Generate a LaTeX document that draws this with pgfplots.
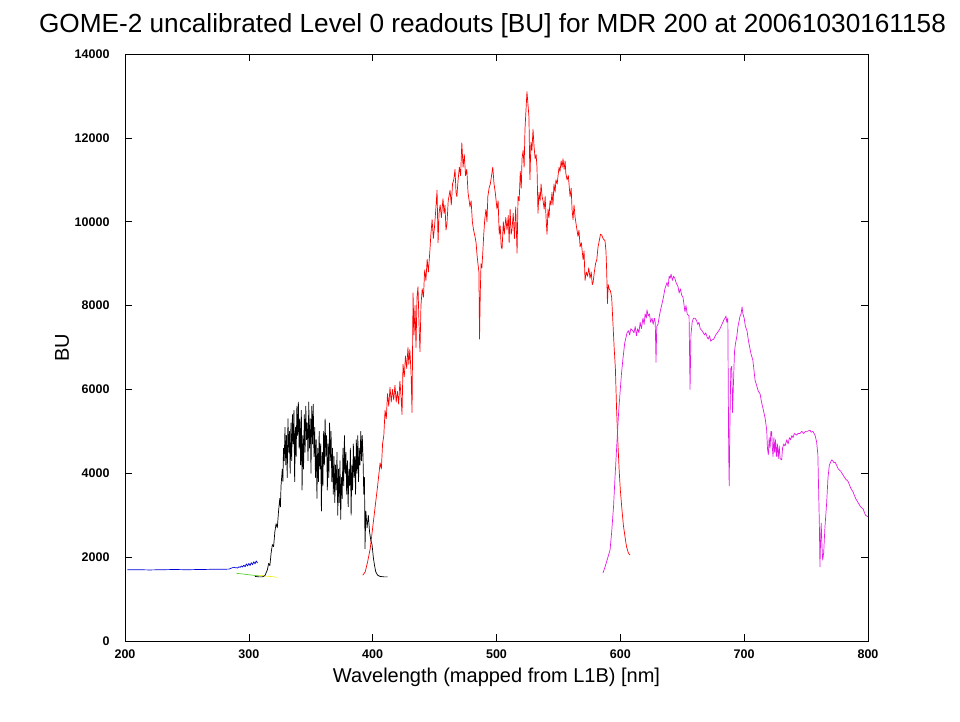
\documentclass[border=0pt]{standalone}
\usepackage{fontspec}
\setmainfont{Liberation Sans}
\usepackage{pgfplots}
\pgfplotsset{compat=1.18}
\definecolor{cblue}{rgb}{0,0,0.85}
\definecolor{cgreen}{rgb}{0.35,0.8,0.2}
\definecolor{cyellow}{rgb}{0.95,0.95,0.1}
\definecolor{cmag}{rgb}{0.9,0.1,0.9}
\begin{document}
\begin{tikzpicture}
\begin{axis}[
  scale only axis, width=743pt, height=587pt,
  xmin=200, xmax=800, ymin=0, ymax=14000,
  xtick={200,300,...,800}, ytick={0,2000,...,14000},
  scaled y ticks=false, scaled x ticks=false,
  tick align=inside, major tick length=7pt,
  every tick/.style={black, line width=0.6pt},
  axis line style={line width=0.8pt},
  /pgf/number format/assume math mode=true,
  yticklabel style={/pgf/number format/fixed, /pgf/number format/1000 sep={}, font=\fontsize{12.5}{14}\selectfont\bfseries, xshift=-12pt},
  xticklabel style={/pgf/number format/1000 sep={}, font=\fontsize{12.5}{14}\selectfont\bfseries, yshift=-5pt},
  title={GOME-2 uncalibrated Level 0 readouts [BU] for MDR 200 at 20061030161158},
  title style={font=\fontsize{26.2}{30}\selectfont, at={(0.5,1)}, anchor=center, yshift=22pt, xshift=-4pt},
  xlabel={Wavelength (mapped from L1B) [nm]},
  xlabel style={font=\fontsize{20}{24}\selectfont, at={(0.5,0)}, anchor=center, yshift=-36pt},
  ylabel={BU},
  ylabel style={font=\fontsize{20}{24}\selectfont, at={(-0.0848,0.5)}, anchor=center},
  every axis plot/.append style={line width=0.7pt, line join=round},
]
% blue channel
\addplot[cblue] coordinates {
(202,1700) (210,1700) (220,1695) (230,1700) (240,1705) (250,1700) (260,1705) (270,1710) (280,1712) (284,1715)
(286,1740) (288,1760) (289,1745) (290,1750) (291,1740) (292,1770) (293,1755) (294,1790) (295,1765) (296,1810)
(297,1770) (298,1840) (299,1790) (300,1850) (301,1800) (302,1870) (303,1820) (304,1890) (305,1840) (306,1910) (307,1860)
};
% green
\addplot[cgreen] coordinates {
(290,1615) (293,1605) (296,1595) (300,1580) (303,1570) (306,1560) (309,1555) (312,1550)
};
% yellow
\addplot[cyellow] coordinates {
(308,1565) (311,1555) (315,1545) (319,1535) (323,1520)
};
% black
\addplot[black] coordinates {
(305,1540) (308,1530) (311,1530) (313,1560) (315,1700) (316,1850) (317,1800) (318,2100) (319,2300) (320,2250)
(321,2600) (322,2800) (323,2700) (324,3100) (325,3400) (325.5,3200) (326,3700) (327,4100) (327.5,3800)
(328.0,4600) (328.6,4300) (329.2,5100) (329.8,4200) (330.4,4900) (331.0,3900) (331.6,5300) (332.2,4500)
(332.8,5000) (333.4,4000) (334.0,5200) (334.6,4300) (335.2,5400) (335.8,4700) (336.4,5500) (337.0,3800)
(337.6,5100) (338.2,4400) (338.8,5600) (339.4,4900) (340.0,5700) (340.6,4600) (341.2,5300) (341.8,4200)
(342.4,5500) (343.0,3600) (343.6,4900) (344.2,4100) (344.8,5400) (345.4,4500) (346.0,5600) (346.6,4800)
(347.2,5200) (347.8,4300) (348.4,5700) (349.0,4600) (349.6,5300) (350.2,4000) (350.8,5600) (351.4,4700)
(352.0,5650) (352.6,4400) (353.2,5100) (353.8,3900) (354.4,4800) (355.0,3400) (355.6,4600) (356.2,3800)
(356.8,5000) (357.4,4100) (358.0,4700) (358.6,3100) (359.2,4500) (359.8,3700) (360.4,5000) (361.0,4200)
(361.6,5300) (362.2,4400) (362.8,4900) (363.4,3600) (364.0,4700) (364.6,3900) (365.2,5200) (365.8,4300)
(366.4,5000) (367.0,3800) (367.6,4600) (368.2,3500) (368.8,4400) (369.4,3300) (370.0,4200) (370.6,3600)
(371.2,4500) (371.8,3000) (372.4,4100) (373.0,3300) (373.6,4300) (374.2,2900) (374.8,3900) (375.4,3400)
(376.0,4600) (376.6,3700) (377.2,4900) (377.8,4000) (378.4,4500) (379.0,3500) (379.6,4300) (380.2,3200)
(380.8,4100) (381.4,3700) (382.0,4600) (382.6,3000) (383.2,4200) (383.8,3600) (384.4,4700) (385.0,3900)
(385.6,4400) (386.2,3500) (386.8,4800) (387.4,4000) (388.0,4900) (388.6,3800) (389.2,4600) (389.8,4200)
(390.4,5000) (391.0,4300) (391.6,4900) (392.2,4400) (392.8,3500) (393.4,3900) (393.8,2200) (394.5,3100)
(395.5,2700) (396.5,3000) (397.5,2600) (398.5,2400) (399.5,2300) (400.5,2000) (401.5,1800) (402.5,1650)
(404,1570) (406,1540) (409,1530) (412,1530)
};
% red
\addplot[red] coordinates {
(392,1570) (394,1650) (396,1900) (398,2200) (400,2700) (402,3200) (404,3700) (406,4250) (407,4100) (408,4700)
(409,4900) (410,5500) (411,5300) (412,5900) (413,5600) (414,6050) (415,5700) (416,6000) (417,5750) (418,6100)
(419,5700) (420,5950) (421,5650) (422,6200) (423,5800) (423.7,5400) (424.5,6600) (425.5,6300) (426.5,6800)
(427.5,6500) (428.5,7000) (429.2,6600) (430,6950) (431,6400) (431.8,5450) (432.6,8300) (433.4,7300)
(434.2,8000) (435,7000) (435.8,8200) (436.6,8450) (437.4,7600) (438.2,6900) (439,8000) (440,8400) (441,8200)
(442,8850) (443,8600) (444,9100) (445,8800) (446.3,9350) (447,9700) (448,10050) (449,9600) (450,9900)
(451,10300) (452,10750) (452.8,9500) (453.6,10200) (454.5,10400) (455.5,10100) (456.8,10550) (457.6,10200)
(458.4,10400) (459.2,9800) (460,9950) (461,10500) (462.5,10750) (463.5,10400) (464.5,10900) (465.5,11000)
(466.5,11250) (467.3,10700) (468,10600) (469,11000) (470,11300) (471,11100) (472,11880) (473,11300)
(474,11600) (475,11100) (476,11250) (477,10700) (478.6,10350) (479.5,10500) (480.5,10000) (481.5,9800)
(482.6,9650) (483.5,9500) (484.3,9200) (485,9000) (485.8,8800) (486.3,7200) (486.9,8300) (487.5,9000)
(488.2,8900) (489,9300) (489.7,9700) (490.5,10050) (491.5,10300) (492.3,10000) (493,10600) (494,10800)
(495,10900) (496,11100) (497,11300) (498,10900) (499,10700) (500.4,10300) (501.3,10500) (502.2,9700)
(503,9900) (503.8,9400) (504.5,9350) (505.5,10000) (506.3,9700) (507.5,10100) (508.5,9800) (509.5,10150)
(510.2,9500) (511,10300) (511.8,9700) (512.5,9800) (513.5,10200) (514.5,9600) (515.5,10350) (516.6,9250)
(517.4,10600) (518.3,10500) (519.2,11200) (520,10800) (520.6,11500) (521.5,11700) (522.3,11300) (523,12200)
(523.7,12600) (524.6,13100) (525.4,12800) (526.2,12500) (527,11000) (527.8,11900) (528.6,11700) (529.5,12200)
(530.3,11800) (531.2,11500) (532,11600) (532.7,11300) (533.5,10200) (534.3,10700) (535.2,10500) (536,10900)
(536.8,10600) (537.6,10500) (538.5,10300) (539.3,10600) (540,10100) (540.8,9700) (541.6,10300) (542.4,10100)
(543.2,10500) (544,10400) (544.8,10700) (545.6,10400) (546.4,10900) (547.3,10700) (548,11000) (549,10900)
(549.7,11100) (550.5,11300) (551.3,11200) (552.2,11450) (553,11300) (553.7,11500) (554.6,11250) (555.4,11450)
(556,11150) (557,11000) (558,11100) (559.4,10600) (560.3,10800) (561,10300) (561.8,10050) (562.6,10400)
(563.5,10100) (564.5,9900) (565.8,9650) (566.6,9800) (567.5,9400) (568.5,9500) (569.9,9100) (570.7,9300)
(571.5,8600) (572.5,8800) (573.5,8700) (574.5,8900) (575.5,8650) (576.5,8800) (577.3,8500) (578,8550)
(579,8800) (580,9000) (581,9100) (582,9400) (583,9550) (584,9700) (585,9680) (586,9600) (587.6,9550)
(588.4,9300) (589,8800) (589.6,8050) (590.2,8500) (591,8400) (592,8350) (593,8200) (594,7600) (595,7000)
(596,6500) (597,5500) (598,4750) (599,4100) (600,3600) (601.4,3100) (602.5,2750) (603.8,2480) (605,2250)
(606.5,2100) (607.8,2050)
};
% magenta
\addplot[cmag] coordinates {
(586,1620) (588,1800) (590,2000) (591.7,2170) (593,2600) (594.5,3200) (595.7,3900) (597,4600) (598.5,5400)
(599.7,5900) (601,6400) (602,6700) (603.5,7100) (605.4,7350) (606.5,7400) (607.5,7300) (608.5,7450) (610,7400)
(611,7350) (612,7500) (613,7280) (614,7450) (615,7350) (616,7600) (617,7450) (618.3,7700) (619.2,7550)
(620,7800) (621,7700) (621.5,7900) (622.5,7750) (623.5,7800) (624.5,7600) (625.6,7700) (626.5,7550)
(627.5,7700) (628.2,7600) (628.8,6650) (629.4,7500) (630.4,7550) (631.5,7750) (632.5,7900) (633.7,8050)
(634.8,8200) (636,8400) (637.7,8550) (638.6,8450) (639.4,8700) (640.2,8650) (641,8750) (642,8600) (643,8700)
(644,8650) (645,8550) (646.6,8450) (647.5,8300) (648.5,8400) (649.5,8250) (650.6,8200) (651.5,8000)
(652.2,7850) (653,8000) (654,7800) (655.5,7750) (656.3,6000) (657,7300) (658,7600) (659,7700) (660.3,7700)
(661.5,7650) (662.5,7550) (663.5,7600) (664.5,7450) (666,7400) (667,7350) (668,7300) (669,7350) (670,7250)
(671,7200) (672,7280) (673,7150) (674,7180) (675.5,7200) (677,7300) (679,7380) (680.5,7450) (682,7550)
(683.5,7650) (684.5,7700) (685.3,7750) (686,7600) (686.8,7700) (687.5,4500) (687.9,3700) (688.4,5000)
(689.2,6500) (690,6550) (690.6,5450) (691.4,6200) (692.2,6900) (693,7100) (694,7250) (695,7500) (696,7650)
(696.7,7750) (697.5,7800) (698.3,7970) (699,7800) (700,7700) (701,7500) (702.3,7400) (703.5,7150) (704.5,7000)
(705.5,6850) (707,6700) (708.8,6220) (710,6100) (711.5,5950) (712.8,5900) (714,5700) (715.5,5510) (717,5300)
(718.2,5030) (718.8,4600) (719.5,4440) (720.2,4850) (720.9,4600) (721.6,5000) (722.2,4990) (722.8,4600)
(723.3,4400) (724,4850) (724.6,4500) (725.3,4800) (726,4400) (726.8,4700) (727.5,4350) (728.3,4650)
(729,4350) (730.3,4320) (731,4600) (732,4700) (733,4650) (734.4,4800) (735.5,4700) (736.5,4850) (737.5,4800)
(738.5,4900) (739.5,4850) (740.5,4950) (742.4,4910) (743.5,4950) (745,4950) (746.5,5000) (748,4950)
(749.5,5000) (751,5000) (753.2,5030) (754,4980) (755.5,5000) (757.2,4910) (758.5,4750) (759.5,4450)
(760.2,3500) (760.7,2810) (761.2,1770) (761.7,2400) (762.2,2810) (762.8,2300) (763.4,1930) (764.2,2100)
(765.2,2700) (766.6,3290) (767.7,3900) (768.8,4200) (770.7,4320) (771.5,4300) (772.5,4250) (773.4,4270)
(774.5,4200) (776,4100) (778,4050) (780,3950) (782,3860) (784,3800) (786,3650) (788,3550) (790,3400)
(792,3300) (794,3200) (796,3150) (798,3000) (800,2960)
};
\end{axis}
\pgfresetboundingbox
\path ([shift={(-125pt,-80pt)}]current axis.south west) rectangle ([shift={(92pt,54pt)}]current axis.north east);
\end{tikzpicture}
\end{document}
